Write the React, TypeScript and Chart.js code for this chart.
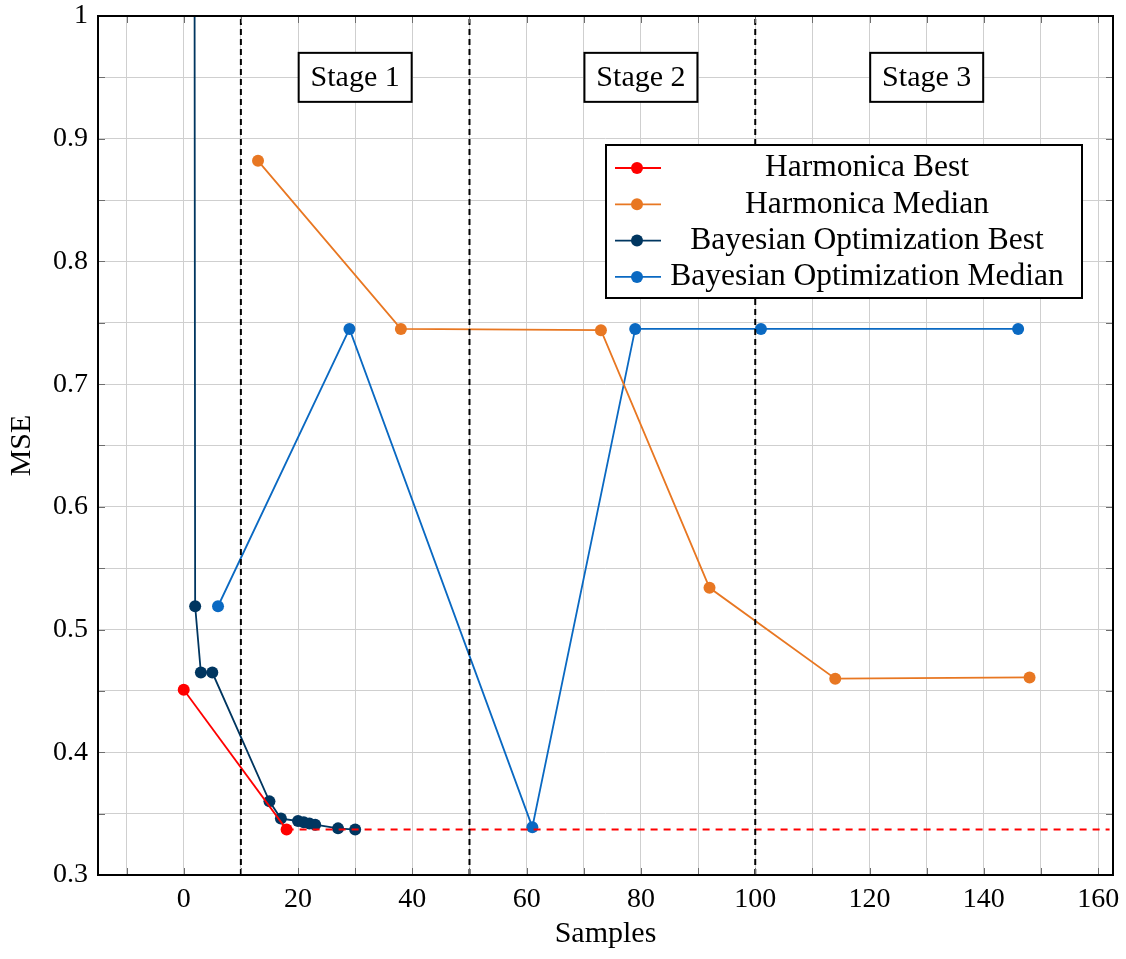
import React, { useEffect, useRef } from "react";
import { Chart, registerables } from "chart.js";

Chart.register(...registerables);

// ---- data ----
const harmonicaBestX = [0, 18];
const harmonicaBestY = [0.451, 0.337];
const harmonicaBestTailX = [18, 162];
const harmonicaBestTailY = [0.337, 0.337];
const harmonicaMedianX = [13, 38, 73, 92, 114, 148];
const harmonicaMedianY = [0.882, 0.745, 0.744, 0.534, 0.46, 0.461];
const bayesBestX = [1.5, 2, 3, 5, 15, 17, 20, 21, 22, 23, 27, 30];
const bayesBestY = [3.0, 0.519, 0.465, 0.465, 0.36, 0.346, 0.344, 0.343, 0.342, 0.341, 0.338, 0.337];
const bayesMedianX = [6, 29, 61, 79, 101, 146];
const bayesMedianY = [0.519, 0.745, 0.339, 0.745, 0.745, 0.745];
const stageBoundaries = [10, 50, 100];
const stageLabels = ["Stage 1", "Stage 2", "Stage 3"];
const stageLabelX = [30, 80, 130];
const stageLabelY = 0.95;
const xTickValues = [-10, 0, 10, 20, 30, 40, 50, 60, 70, 80, 90, 100, 110, 120, 130, 140, 150, 160];
const xTickLabels = ["", "0", "", "20", "", "40", "", "60", "", "80", "", "100", "", "120", "", "140", "", "160"];
const yTickValues = [0.3, 0.35, 0.4, 0.45, 0.5, 0.55, 0.6, 0.65, 0.7, 0.75, 0.8, 0.85, 0.9, 0.95, 1.0];
const yTickLabels = ["0.3", "", "0.4", "", "0.5", "", "0.6", "", "0.7", "", "0.8", "", "0.9", "", "1"];
const seriesNames = ["Harmonica Best", "Harmonica Median", "Bayesian Optimization Best", "Bayesian Optimization Median"];
const seriesColors = ["#ff0000", "#e87722", "#003660", "#0a69c2"];

const FONT = '"Liberation Serif", "Times New Roman", serif';

const zip = (xs: number[], ys: number[]) => xs.map((x, i) => ({ x, y: ys[i] }));

const decorPlugin = {
  id: "decor",
  afterDatasetsDraw(chart: any) {
    const { ctx, chartArea: a, scales } = chart;
    const xs = scales.x;
    const ys = scales.y;
    ctx.save();
    // inner tick marks
    ctx.strokeStyle = "#6e6e6e";
    ctx.lineWidth = 1;
    const tl = 7;
    xTickValues.forEach((v) => {
      const p = Math.round(xs.getPixelForValue(v)) + 0.5;
      ctx.beginPath();
      ctx.moveTo(p, a.bottom);
      ctx.lineTo(p, a.bottom - tl);
      ctx.moveTo(p, a.top);
      ctx.lineTo(p, a.top + tl);
      ctx.stroke();
    });
    yTickValues.forEach((v) => {
      const p = Math.round(ys.getPixelForValue(v)) + 0.5;
      ctx.beginPath();
      ctx.moveTo(a.left, p);
      ctx.lineTo(a.left + tl, p);
      ctx.moveTo(a.right, p);
      ctx.lineTo(a.right - tl, p);
      ctx.stroke();
    });
    // stage label boxes
    ctx.font = `30px ${FONT}`;
    ctx.textAlign = "center";
    ctx.textBaseline = "middle";
    stageLabels.forEach((t, i) => {
      const cx = xs.getPixelForValue(stageLabelX[i]);
      const cy = ys.getPixelForValue(stageLabelY);
      const w = 113;
      const h = 49;
      ctx.fillStyle = "#ffffff";
      ctx.fillRect(cx - w / 2, cy - h / 2, w, h);
      ctx.strokeStyle = "#000";
      ctx.lineWidth = 2;
      ctx.strokeRect(cx - w / 2, cy - h / 2, w, h);
      ctx.fillStyle = "#000";
      ctx.fillText(t, cx, cy + 1);
    });
    // legend
    const lx = a.right - 507;
    const ly = a.top + 129;
    const lw = 476;
    const lh = 153;
    ctx.fillStyle = "#fff";
    ctx.fillRect(lx, ly, lw, lh);
    ctx.strokeStyle = "#000";
    ctx.lineWidth = 2;
    ctx.strokeRect(lx, ly, lw, lh);
    ctx.font = `31.5px ${FONT}`;
    seriesNames.forEach((name, i) => {
      const ry = ly + 23 + i * 36.3;
      ctx.strokeStyle = seriesColors[i];
      ctx.lineWidth = 1.8;
      ctx.beginPath();
      ctx.moveTo(lx + 9, ry);
      ctx.lineTo(lx + 55, ry);
      ctx.stroke();
      ctx.fillStyle = seriesColors[i];
      ctx.beginPath();
      ctx.arc(lx + 31, ry, 6, 0, Math.PI * 2);
      ctx.fill();
      ctx.fillStyle = "#000";
      ctx.textAlign = "center";
      ctx.textBaseline = "middle";
      ctx.fillText(name, lx + 261, ry);
    });
    ctx.restore();
  },
  afterDraw(chart: any) {
    const { ctx, chartArea: a } = chart;
    ctx.save();
    ctx.strokeStyle = "#000";
    ctx.lineWidth = 2;
    ctx.strokeRect(a.left, a.top, a.right - a.left, a.bottom - a.top);
    ctx.restore();
  },
};

export default function App() {
  const ref = useRef<HTMLCanvasElement | null>(null);
  useEffect(() => {
    if (!ref.current) return;
    const series = (i: number, xs: number[], ys: number[]) => ({
      label: seriesNames[i],
      data: zip(xs, ys),
      borderColor: seriesColors[i],
      backgroundColor: seriesColors[i],
      borderWidth: 1.8,
      pointRadius: 6,
      pointHoverRadius: 6,
      pointBorderWidth: 0,
      tension: 0,
    });
    const stageLines = stageBoundaries.map((b) => ({
      label: "",
      data: [
        { x: b, y: 0.3 },
        { x: b, y: 1.0 },
      ],
      borderColor: "#000",
      borderWidth: 2,
      borderDash: [6, 4],
      pointRadius: 0,
    }));
    const chart = new Chart(ref.current, {
      type: "line",
      data: {
        datasets: [
          ...stageLines,
          {
            label: "",
            data: zip(harmonicaBestTailX, harmonicaBestTailY),
            borderColor: seriesColors[0],
            borderWidth: 2,
            borderDash: [7, 6],
            pointRadius: 0,
          },
          series(0, harmonicaBestX, harmonicaBestY),
          series(1, harmonicaMedianX, harmonicaMedianY),
          series(3, bayesMedianX, bayesMedianY),
          series(2, bayesBestX, bayesBestY),
        ] as any,
      },
      options: {
        animation: false,
        responsive: false,
        events: [],
        layout: { padding: { left: 0, right: 13, top: 16, bottom: 0 } },
        plugins: { legend: { display: false }, tooltip: { enabled: false } },
        scales: {
          x: {
            type: "linear",
            min: -15,
            max: 162.6,
            afterBuildTicks: (s: any) => {
              s.ticks = xTickValues.map((v) => ({ value: v }));
            },
            afterFit: (s: any) => {
              s.height = 84;
              s.paddingLeft = 0;
              s.paddingRight = 0;
            },
            ticks: {
              autoSkip: false,
              maxRotation: 0,
              padding: 8,
              color: "#000",
              font: { family: FONT, size: 28 },
              callback: (v: any) => {
                const i = xTickValues.indexOf(Number(v));
                return i >= 0 ? xTickLabels[i] : "";
              },
            },
            grid: { color: "#cfcfcf", lineWidth: 1, drawTicks: false },
            border: { display: false },
            title: {
              display: true,
              text: "Samples",
              color: "#000",
              font: { family: FONT, size: 30, lineHeight: 1 },
              padding: { top: 0, bottom: 10 },
            },
          },
          y: {
            type: "linear",
            min: 0.3,
            max: 1.0,
            afterBuildTicks: (s: any) => {
              s.ticks = yTickValues.map((v) => ({ value: v }));
            },
            afterFit: (s: any) => {
              s.width = 98;
              s.paddingTop = 0;
              s.paddingBottom = 0;
            },
            ticks: {
              autoSkip: false,
              padding: 10,
              color: "#000",
              font: { family: FONT, size: 28 },
              callback: (v: any) => {
                const i = yTickValues.findIndex((t) => Math.abs(t - Number(v)) < 1e-9);
                return i >= 0 ? yTickLabels[i] : "";
              },
            },
            grid: { color: "#cfcfcf", lineWidth: 1, drawTicks: false },
            border: { display: false },
            title: {
              display: true,
              text: "MSE",
              color: "#000",
              font: { family: FONT, size: 30, lineHeight: 1 },
              padding: { top: 7, bottom: 0 },
            },
          },
        },
      },
      plugins: [decorPlugin],
    } as any);
    return () => chart.destroy();
  }, []);
  return (
    <div style={{ position: "fixed", left: 0, top: 0, width: 1126, height: 959, background: "#fff" }}>
      <canvas ref={ref} width={1126} height={959} style={{ width: 1126, height: 959 }} />
    </div>
  );
}
